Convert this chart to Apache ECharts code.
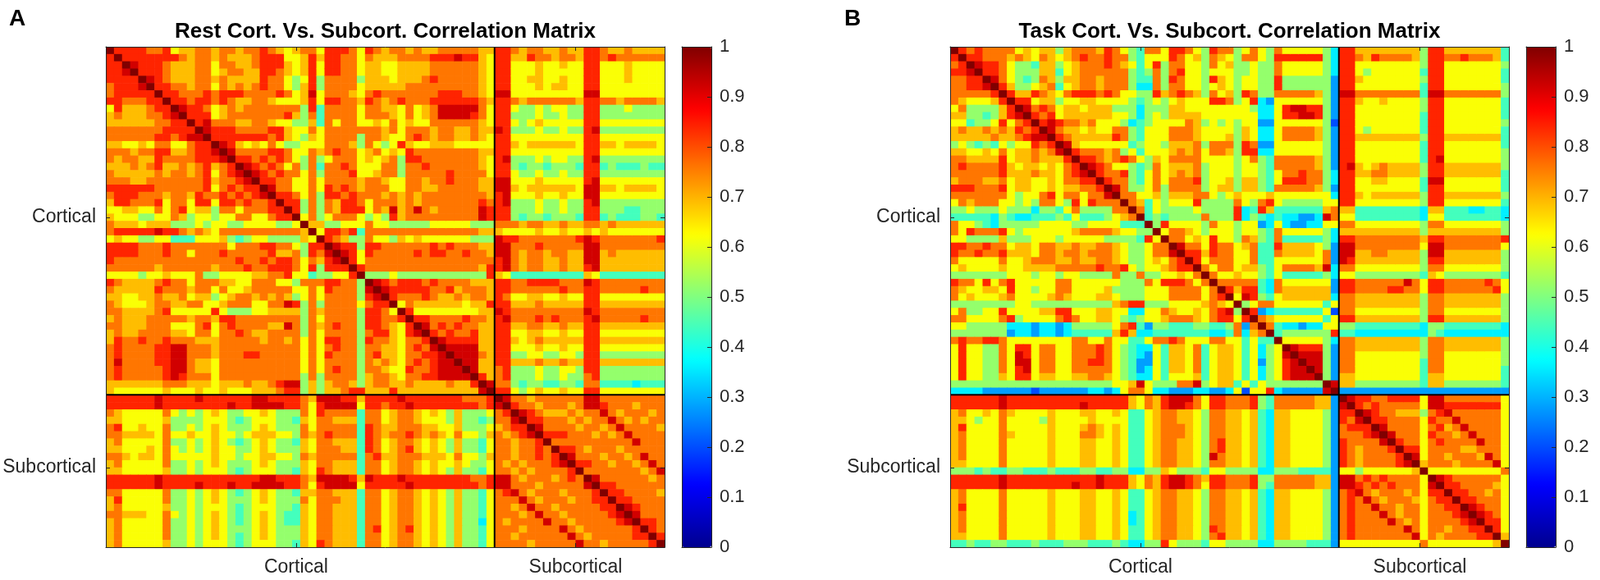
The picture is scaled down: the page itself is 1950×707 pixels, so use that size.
<!DOCTYPE html>
<html>
<head>
<meta charset="utf-8">
<script src="https://cdn.jsdelivr.net/npm/echarts@6/dist/echarts.min.js"></script>
<style>
html,body{margin:0;padding:0;background:#fff;}
#chart{width:1950px;height:707px;}
</style>
</head>
<body>
<div id="chart"></div>
<script>
// ---------------- data ----------------
const TITLES = ['Rest Cort. Vs. Subcort. Correlation Matrix', 'Task Cort. Vs. Subcort. Correlation Matrix'];
const PANEL_LETTERS = ['A', 'B'];
const GROUPS = ['Cortical', 'Subcortical'];
const GROUP_SIZES = [48, 21];
const TICK_POS = [23.5, 58];          // tick positions of the group labels (cell units)
const CBAR_TICKS = [0, 0.1, 0.2, 0.3, 0.4, 0.5, 0.6, 0.7, 0.8, 0.9, 1];
// value codes used in the row strings
const LEVEL = {'0':0.12,'1':0.20,'2':0.28,'3':0.36,'4':0.44,'5':0.52,'6':0.62,'7':0.69,'8':0.76,'9':0.84,'R':0.92,'X':1.0};

// lower triangle rows (columns 0..i)
const REST_ROWS = [
"X",
"9X",
"99X",
"99RX",
"9999X",
"8999RX",
"899999X",
"9988899X",
"69777899X",
"78777889RX",
"7777778899X",
"88888889999X",
"8888889989RRX",
"7766768866899X",
"8887889977899RX",
"87887798888999RX",
"7778789778789789X",
"8777778788789689RX",
"88877888888897889RX",
"9999998888889689899X",
"89998 88788 79889 8989R X",
"79988 89688 69969 98988 9 X",
"66776 68689 67758 86888 99 X",
"76665 56687 56656 68866 899 X",
"87776 77755 56566 55666 6556 X",
"89999 9R998 78768 88888 88887 X",
"67665 56644 46667 54566 55557 6 X",
"99998 88988 88888 68889 98865 99 X",
"99998 88988 68889 88888 97785 98R X",
"98888 88888 88888 89889 89986 879R X",
"88888 87888 88878 88988 99986 95999 X",
"66665 66766 68556 66677 88966 45566 9 X",
"98777 78988 68887 76688 86658 88998 85 X",
"87777 79888 78868 66788 88866 86988 85R X",
"77667 78778 67756 78878 78756 86888 859R X",
"87666 78877 88667 88866 88R95 85888 86899 X",
"88777 78966 66696 55566 77775 87888 85998 6 X",
"78777 88888 78879 98888 88885 86888 85998 89 X",
"88777 88866 68968 98888 77R85 87898 85998 769 X",
"78778 88877 68868 89877 88885 86888 85899 769R X",
"79889 88988 87778 88887 88786 86998 85988 76889 X",
"89888 899RR 88878 88888 88886 86898 85887 76898 R X",
"89888 899RR 88878 88998 88886 86988 85897 76889 9R X",
"8R888 899RR 87768 88888 88886 86888 85878 76898 9RR X",
"89888 889RR 87768 88888 88886 86898 85887 66988 9RRR X",
"89888 889R9 88868 88888 88885 85888 85788 76889 9RRRR X",
"77777 77888 77767 77877 89RR5 75788 75788 77877 77877 9 X",
"76666 66766 67667 66677 78995 75778 99777 97777 77777 7R X",
"99999 9R999 9R999 999RR 99998 7RRR9 97999 9R999 99998 889 X",
"99999 9R999 99999 R99RR RR998 69RRR R6998 99R99 99999 989 R X",
"87666 66865 65676 55667 65558 69888 84886 78876 76575 556 89 X",
"77666 66755 55666 54566 65547 68877 74886 78876 66575 545 88R X",
"89667 66855 65676 55567 65558 68888 84987 78887 76675 556 7899 X",
"88777 76866 76676 65677 76658 78988 84987 88987 87686 657 8789R X",
"78666 66855 65676 54567 65547 68877 74986 78876 76575 546 887889 X",
"77666 76865 65676 65567 65557 68887 74986 78976 76575 546 8878898 X",
"88767 76866 66676 65667 76658 78888 84897 78887 77686 657 88788989 X",
"78666 66855 65676 55567 65557 68877 74886 78876 76676 556 87878889R X",
"77666 66755 65666 54566 65547 69877 74886 78876 76575 546 8878788889 X",
"99999 9R999 99999 9999R R9998 7RRRR 97R99 9R999 99999 889 RR878887898 X",
"99999 9R999 9R999 R99RR RR998 69RRR R6999 99R99 99999 989 RR888788888R X",
"88666 66855 65676 54567 65547 78877 74886 78876 76575 546 89R8788878889 X",
"79666 66855 65676 55567 65558 68887 74886 78876 76575 546 888R8788878899 X",
"78666 66755 65666 54566 65547 68877 74886 78876 76575 546 8878R8878888899 X",
"88777 66865 65676 54567 65447 68877 74886 78876 76575 546 88878R887888889R X",
"78666 66855 65676 54567 65447 68877 74886 78876 76575 536 878888R887888889R X",
"78666 66855 65676 55567 65557 68877 74896 78976 76575 546 88878888R878888889 X",
"78666 66855 65676 54567 65557 68877 74886 78876 76575 546 887888888R878888899 X",
"78666 66755 65666 54566 65547 69877 74886 78876 76575 546 8888788888R887888889 X"
];

const TASK_ROWS = [
"X",
"9X",
"89X",
"99RX",
"8899X",
"8899RX",
"888889X",
"8766679X",
"68555579X",
"77554579RX",
"6645569689X",
"78778787989X",
"7777787789RRX",
"5654546566989X",
"7766768677878RX",
"887777967787779X",
"8988889767767689X",
"8888889777877689RX",
"78887 78677 66768 899 X",
"99988 89677 66767 7889 X",
"88888 88656 68968 8688R X",
"68788 86656 58865 96988 8 X",
"55655 56555 35546 85555 88 X",
"44444 35433 44454 64445 678 X",
"86654 35555 56666 55666 6444 X",
"86988 89656 66666 78888 76655 X",
"66555 57555 66656 66665 55549 6 X",
"99889 88677 68877 87788 76556 88 X",
"98898 89777 68878 87888 76556 88R X",
"86666 68667 88877 87788 76556 7689 X",
"67666 67667 77788 88898 89656 67899 X",
"55555 55666 56656 65555 85585 56676 8 X",
"98869 68966 66688 66666 65558 69998 68 X",
"87667 76966 56688 66667 55556 66888 868 X",
"86766 67866 66787 66677 65556 66888 8689 X",
"55555 55566 55555 55555 78995 55666 67876 X",
"68556 69666 67799 66677 66336 68766 7689R 5 X",
"88666 68956 66689 86677 65456 67888 76899 69 X",
"66555 55333 23323 55555 68942 55444 55445 828 X",
"55555 55233 23323 44444 79733 44444 44334 8378 X",
"89889 98666 66666 88668 66446 88986 66886 64644 X",
"69665 58699 68866 88898 65433 64776 84677 64635 6 X",
"69665 586R9 68866 88898 65432 64776 84677 64635 6R X",
"69665 586RR 68866 88998 65422 64776 84677 64625 69R X",
"69665 5869R 68866 88888 65423 64776 84677 64635 69RR X",
"69665 57699 67766 77887 65433 64666 74677 64635 69RRR X",
"55555 55555 55555 55555 667R6 55588 R5677 46465 55555 5 X",
"33332 22222 12222 22332 36886 33222 33223 61669 32222 2R X",
"99999 9R999 99999 99999 99768 79RRR 86998 88954 88888 772 X",
"99999 9R999 99999 9R999 99768 79RR9 86998 88954 88888 772 R X",
"78667 68766 66766 67766 76446 78877 65887 76743 77666 652 99 X",
"77656 68666 65766 66766 66446 78877 65887 76743 77666 652 98R X",
"79666 68666 66766 67876 76446 78887 65887 76743 77666 652 8999 X",
"78666 68766 66766 68876 76446 78887 65887 76743 77666 652 8889R X",
"78666 68666 66766 67766 76446 78877 65897 76743 77666 652 98888R X",
"78666 68666 66766 67766 76446 78877 65897 76743 77666 652 9878889 X",
"78666 68666 66766 67766 76446 78877 65R87 76743 77666 652 98788889 X",
"77666 68666 66766 67766 76446 78877 65887 76743 77666 652 98788889R X",
"55545 44554 44544 45544 55335 57655 54665 55533 55544 442 6656666667 X",
"99999 9R999 99999 999R9 99768 79RR9 87998 88955 88888 772 RR898988886 X",
"99999 9R999 99999 R99R9 99768 79RR9 86998 88954 88888 772 RR989898886R X",
"78666 68666 66766 67766 76446 78877 65887 76743 77666 652 89R8788878699 X",
"78666 68666 66766 67766 76446 78877 65887 76743 77666 652 898R8788876899 X",
"79666 68666 66766 67766 76446 78877 65887 76743 77666 652 8988R8878868899 X",
"78666 68666 66766 67766 76346 78877 65887 76743 77666 652 89888R878868889R X",
"78666 68666 66766 67766 76346 78877 65887 76743 77666 652 898888R878688889R X",
"78666 68666 66766 67766 76446 78877 65987 76743 77666 652 89888888R868878899 X",
"77666 68666 66766 67766 76446 78877 65897 76743 77666 652 898888888R687888899 X",
"44544 55444 54445 55444 54335 59655 54665 55533 55554 442 66666666668666666667 X"
];

// ---------------- build ----------------
function toCells(rows, name) {
  const clean = rows.map(r => r.replace(/\s+/g, ''));
  const bad = [];
  clean.forEach((r, i) => { if (r.length !== i + 1) bad.push(i + ':' + r.length); });
  if (bad.length) throw new Error(name + ' bad rows ' + bad.join(','));
  const cells = [];
  for (let i = 0; i < clean.length; i++) {
    for (let j = 0; j <= i; j++) {
      const v = LEVEL[clean[i][j]];
      if (v === undefined) throw new Error(name + ' bad char at ' + i + ',' + j);
      cells.push([j, i, v]);
      if (i !== j) cells.push([i, j, v]);
    }
  }
  return cells;
}
const N = GROUP_SIZES.reduce((a, b) => a + b, 0);
const NB = GROUP_SIZES[0];
const restCells = toCells(REST_ROWS, 'rest');
const taskCells = toCells(TASK_ROWS, 'task');

const JET = ['#00008F','#0000FF','#0080FF','#00FFFF','#80FF80','#FFFF00','#FF8000','#FF0000','#800000'];
const AX = '#262626';
const FONT = '"Liberation Sans", Arial, Helvetica, sans-serif';
const labelFmt = v => { const k = TICK_POS.findIndex(p => Math.abs(p - v) < 1e-6); return k >= 0 ? GROUPS[k] : ''; };

const G = [
  {left: 129, top: 57, width: 681, height: 610},
  {left: 1158, top: 57, width: 681, height: 610}
];
const CB = [
  {left: 831, top: 57, width: 36, height: 610},
  {left: 1860, top: 57, width: 36, height: 610}
];

function renderCell(params, api) {
  const x = api.value(0), y = api.value(1);
  const a = api.coord([x, y]), b = api.coord([x + 1, y + 1]);
  return {
    type: 'rect',
    shape: {x: Math.min(a[0], b[0]), y: Math.min(a[1], b[1]),
            width: Math.abs(b[0] - a[0]) + 0.6, height: Math.abs(b[1] - a[1]) + 0.6},
    style: {fill: api.visual('color')}
  };
}

const grids = [], xAxes = [], yAxes = [], series = [], visualMaps = [], graphics = [];
[0, 1].forEach(p => {
  grids.push(G[p]);
  const gi = p;
  const base = {type: 'value', gridIndex: gi, min: 0, max: N, z: 10,
    splitLine: {show: false},
    axisLine: {show: true, onZero: false, lineStyle: {color: AX, width: 1}}};
  xAxes.push(Object.assign({}, base, {position: 'bottom',
    axisTick: {show: true, inside: true, length: 5, lineStyle: {color: AX}, customValues: TICK_POS},
    axisLabel: {show: true, customValues: TICK_POS, formatter: labelFmt, fontSize: 23, color: AX, fontFamily: FONT, margin: 13}}));
  xAxes.push(Object.assign({}, base, {position: 'top',
    axisTick: {show: true, inside: true, length: 5, lineStyle: {color: AX}, customValues: TICK_POS},
    axisLabel: {show: false}}));
  yAxes.push(Object.assign({}, base, {position: 'left', inverse: true,
    axisTick: {show: true, inside: true, length: 5, lineStyle: {color: AX}, customValues: TICK_POS},
    axisLabel: {show: true, customValues: TICK_POS, formatter: labelFmt, fontSize: 23, color: AX, fontFamily: FONT, margin: 12}}));
  yAxes.push(Object.assign({}, base, {position: 'right', inverse: true,
    axisTick: {show: true, inside: true, length: 5, lineStyle: {color: AX}, customValues: TICK_POS},
    axisLabel: {show: false}}));
});
// colorbar grids
[0, 1].forEach(p => {
  grids.push(CB[p]);
  const gi = 2 + p;
  const base = {type: 'value', gridIndex: gi, min: 0, max: 1, z: 10,
    splitLine: {show: false}, axisTick: {show: false}, axisLabel: {show: false},
    axisLine: {show: true, onZero: false, lineStyle: {color: AX, width: 1}}};
  xAxes.push(Object.assign({}, base, {position: 'bottom'}));
  xAxes.push(Object.assign({}, base, {position: 'top'}));
  yAxes.push(Object.assign({}, base, {position: 'right', interval: 0.1,
    axisTick: {show: true, inside: true, length: 5, lineStyle: {color: AX}, customValues: CBAR_TICKS},
    axisLabel: {show: true, customValues: CBAR_TICKS, fontSize: 22, color: AX, fontFamily: FONT, margin: 10}}));
  yAxes.push(Object.assign({}, base, {position: 'left'}));
});

series.push({type: 'custom', name: 'rest', xAxisIndex: 0, yAxisIndex: 0, data: restCells,
  encode: {x: 0, y: 1}, renderItem: renderCell, clip: true, silent: true, z: 2});
series.push({type: 'custom', name: 'task', xAxisIndex: 2, yAxisIndex: 2, data: taskCells,
  encode: {x: 0, y: 1}, renderItem: renderCell, clip: true, silent: true, z: 2});
[0, 1].forEach(p => {
  const lineBase = {type: 'line', xAxisIndex: 2 * p, yAxisIndex: 2 * p, symbol: 'none', silent: true,
    lineStyle: {color: '#000', width: 2}, z: 5, clip: false, animation: false};
  series.push(Object.assign({}, lineBase, {data: [[NB, 0], [NB, N]]}));
  series.push(Object.assign({}, lineBase, {data: [[0, NB], [N, NB]]}));
});
[0, 1].forEach(p => {
  visualMaps.push({type: 'continuous', seriesIndex: p, dimension: 2, min: 0, max: 1,
    orient: 'vertical', left: CB[p].left, top: CB[p].top, itemWidth: CB[p].width, itemHeight: CB[p].height,
    calculable: false, padding: 0, hoverLink: false, inRange: {color: JET}, z: 4});
  const cx = G[p].left + G[p].width / 2;
  graphics.push({type: 'text', x: cx, y: 39, z: 20,
    style: {text: TITLES[p], font: 'bold 26px ' + FONT, fill: '#000',
      textAlign: 'center', align: 'center', textVerticalAlign: 'middle', verticalAlign: 'middle'}});
  graphics.push({type: 'text', x: p === 0 ? 21 : 1039, y: 23, z: 20,
    style: {text: PANEL_LETTERS[p], font: 'bold 28px ' + FONT, fill: '#000',
      textAlign: 'center', align: 'center', textVerticalAlign: 'middle', verticalAlign: 'middle'}});
});

const chart = echarts.init(document.getElementById('chart'), null, {renderer: 'canvas'});
chart.setOption({
  backgroundColor: '#fff',
  animation: false,
  grid: grids,
  xAxis: xAxes,
  yAxis: yAxes,
  visualMap: visualMaps,
  series: series,
  graphic: graphics
});
</script>
</body>
</html>
